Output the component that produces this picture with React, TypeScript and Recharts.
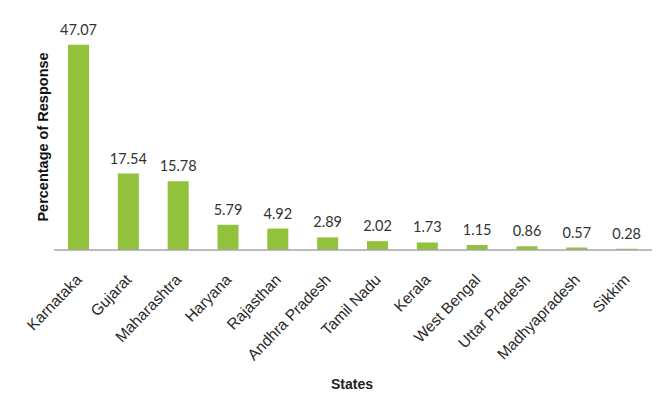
import React from 'react';
import { BarChart, Bar, XAxis, YAxis, LabelList } from 'recharts';

const states = ['Karnataka', 'Gujarat', 'Maharashtra', 'Haryana', 'Rajasthan', 'Andhra Pradesh', 'Tamil Nadu', 'Kerala', 'West Bengal', 'Uttar Pradesh', 'Madhyapradesh', 'Sikkim'];
const responses = [47.07, 17.54, 15.78, 5.79, 4.92, 2.89, 2.02, 1.73, 1.15, 0.86, 0.57, 0.28];

const data = states.map((s, i) => ({ state: s, value: responses[i] }));

const Tick = (props: any) => {
  const { x, y, payload } = props;
  return (
    <g transform={`translate(${x - 2},${y + 17})`}>
      <text x={0} y={0} dy={8} textAnchor="end" transform="rotate(-46)" fill="#2a2a2a" fontSize={15.5} fontFamily="Liberation Sans, Arial, sans-serif">
        {payload.value}
      </text>
    </g>
  );
};

export default function App() {
  return (
    <div style={{ position: 'absolute', left: 0, top: 0, background: '#fff' }}>
      <BarChart width={664} height={394} data={data} margin={{ top: 32, right: 12, bottom: 0, left: 0 }}>
        <YAxis
          domain={[0, 50]}
          width={54}
          tick={false}
          axisLine={false}
          tickLine={false}
          label={{
            content: () => (
              <text x={43} y={137} transform="rotate(-90 43 137)" textAnchor="middle" dominantBaseline="central" fontSize={14.5} fontWeight="bold" fill="#111" fontFamily="Liberation Sans, Arial, sans-serif">
                Percentage of Response
              </text>
            ),
          }}
        />
        <XAxis
          dataKey="state"
          interval={0}
          height={144}
          tickLine={false}
          axisLine={{ stroke: '#a6a6a6', strokeWidth: 1.5 }}
          tick={<Tick />}
          label={{
            content: () => (
              <text x={352} y={384} textAnchor="middle" dominantBaseline="central" fontSize={14} fontWeight="bold" fill="#222" fontFamily="Liberation Sans, Arial, sans-serif">
                States
              </text>
            ),
          }}
        />
        <Bar dataKey="value" fill="#92c13c" barSize={21} isAnimationActive={false}>
          <LabelList dataKey="value" position="top" offset={10} fill="#333" fontSize={14.5} fontFamily="Lato, sans-serif" />
        </Bar>
      </BarChart>
    </div>
  );
}
